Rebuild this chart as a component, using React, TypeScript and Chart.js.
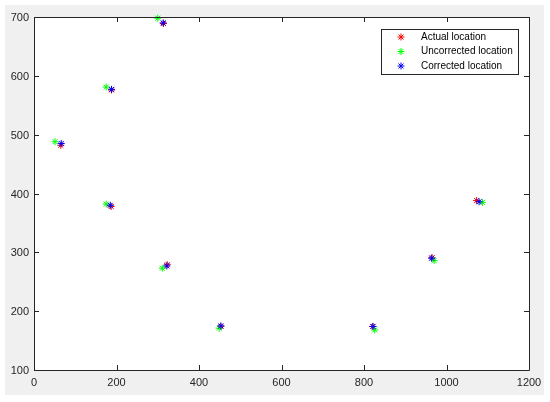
import React, { useEffect, useRef } from 'react';
import { Chart, registerables } from 'chart.js';

Chart.register(...registerables);

const xTicks = [0, 200, 400, 600, 800, 1000, 1200];
const yTicks = [100, 200, 300, 400, 500, 600, 700];

const seriesNames = ['Actual location', 'Uncorrected location', 'Corrected location'];
const seriesColors = ['#ff0000', '#00ff00', '#0000ff'];

const actualX = [314, 188, 65, 187, 323, 453, 821, 965, 1073];
const actualY = [689, 576, 482, 378, 279, 174, 174, 291, 388];

const uncorrectedX = [300, 175, 51, 175, 311, 449, 826, 970, 1087];
const uncorrectedY = [698, 581, 488, 382, 273, 171, 168, 286, 385];

const correctedX = [313, 188, 66, 185, 322, 453, 822, 964, 1079];
const correctedY = [690, 577, 485, 380, 277, 175, 174, 290, 386];

const FONT = '"Liberation Sans", Arial, Helvetica, sans-serif';
const AXIS_COLOR = '#262626';

function toPoints(xs: number[], ys: number[]) {
  return xs.map((x, i) => ({ x, y: ys[i] }));
}

function drawAsterisk(ctx: CanvasRenderingContext2D, x: number, y: number, r: number, color: string) {
  const d = r * Math.SQRT1_2;
  ctx.save();
  ctx.strokeStyle = color;
  ctx.lineWidth = 1;
  ctx.beginPath();
  ctx.moveTo(x - r, y);
  ctx.lineTo(x + r, y);
  ctx.moveTo(x, y - r);
  ctx.lineTo(x, y + r);
  ctx.moveTo(x - d, y - d);
  ctx.lineTo(x + d, y + d);
  ctx.moveTo(x - d, y + d);
  ctx.lineTo(x + d, y - d);
  ctx.stroke();
  ctx.restore();
}

const framePlugin = {
  id: 'matlabFrame',
  beforeDraw(chart: any) {
    const { ctx, chartArea, width, height } = chart;
    ctx.save();
    ctx.fillStyle = '#ffffff';
    ctx.fillRect(0, 0, width, height);
    ctx.fillStyle = '#f0f0f0';
    ctx.fillRect(5, 5, width - 11, height - 12);
    ctx.fillStyle = '#ffffff';
    ctx.fillRect(chartArea.left, chartArea.top, chartArea.right - chartArea.left, chartArea.bottom - chartArea.top);
    ctx.restore();
  },
  afterDraw(chart: any) {
    const { ctx, chartArea } = chart;
    const { left, right, top, bottom } = chartArea;
    const xs = chart.scales.x;
    const ys = chart.scales.y;
    const tl = 5;
    ctx.save();
    ctx.strokeStyle = AXIS_COLOR;
    ctx.lineWidth = 1;
    ctx.beginPath();
    ctx.rect(Math.round(left) + 0.5, Math.round(top) + 0.5, Math.round(right - left), Math.round(bottom - top));
    ctx.stroke();
    ctx.beginPath();
    xTicks.forEach((v) => {
      const px = Math.round(xs.getPixelForValue(v)) + 0.5;
      ctx.moveTo(px, bottom);
      ctx.lineTo(px, bottom - tl);
      ctx.moveTo(px, top);
      ctx.lineTo(px, top + tl);
    });
    yTicks.forEach((v) => {
      const py = Math.round(ys.getPixelForValue(v)) + 0.5;
      ctx.moveTo(left, py);
      ctx.lineTo(left + tl, py);
      ctx.moveTo(right, py);
      ctx.lineTo(right - tl, py);
    });
    ctx.stroke();

    // tick labels
    ctx.fillStyle = AXIS_COLOR;
    ctx.font = `11px ${FONT}`;
    ctx.textBaseline = 'middle';
    ctx.textAlign = 'center';
    xTicks.forEach((v) => {
      ctx.fillText(String(v), xs.getPixelForValue(v), bottom + 13);
    });
    ctx.textAlign = 'right';
    yTicks.forEach((v) => {
      ctx.fillText(String(v), left - 5, ys.getPixelForValue(v) + 1);
    });

    // legend
    const lw = 137;
    const lh = 45;
    const lx = Math.round(right) - 11 - lw;
    const ly = Math.round(top) + 12;
    ctx.fillStyle = '#ffffff';
    ctx.fillRect(lx, ly, lw, lh);
    ctx.strokeStyle = AXIS_COLOR;
    ctx.strokeRect(lx + 0.5, ly + 0.5, lw, lh);
    ctx.font = `10px ${FONT}`;
    ctx.textBaseline = 'middle';
    ctx.textAlign = 'left';
    seriesNames.forEach((name, i) => {
      const cy = ly + 8 + i * 14.5;
      drawAsterisk(ctx, lx + 20, cy, 3.5, seriesColors[i]);
      ctx.fillStyle = '#000000';
      ctx.fillText(name, lx + 40, cy);
    });
    ctx.restore();
  },
};

export default function App() {
  const canvasRef = useRef<HTMLCanvasElement | null>(null);

  useEffect(() => {
    const canvas = canvasRef.current;
    if (!canvas) return;
    const datasets = [
      { label: seriesNames[0], data: toPoints(actualX, actualY), order: 2 },
      { label: seriesNames[1], data: toPoints(uncorrectedX, uncorrectedY), order: 1 },
      { label: seriesNames[2], data: toPoints(correctedX, correctedY), order: 0 },
    ].map((d, i) => ({
      ...d,
      pointStyle: 'star' as const,
      pointRadius: 3.5,
      pointHoverRadius: 3.5,
      borderWidth: 1,
      pointBorderWidth: 1,
      borderColor: seriesColors[i],
      backgroundColor: seriesColors[i],
      showLine: false,
      clip: false as const,
    }));

    const chart = new Chart(canvas, {
      type: 'scatter',
      data: { datasets },
      options: {
        responsive: false,
        animation: false,
        devicePixelRatio: 1,
        events: [],
        layout: { padding: { left: 34, top: 17, right: 21, bottom: 32 } },
        plugins: {
          legend: { display: false },
          tooltip: { enabled: false },
        },
        scales: {
          x: {
            type: 'linear',
            position: 'bottom',
            min: 0,
            max: 1200,
            afterFit: (s: any) => { s.height = 0; },
            grid: { display: false, drawTicks: false },
            border: { display: false },
            ticks: { display: false, stepSize: 200 },
          },
          y: {
            type: 'linear',
            position: 'left',
            min: 100,
            max: 700,
            afterFit: (s: any) => { s.width = 0; },
            grid: { display: false, drawTicks: false },
            border: { display: false },
            ticks: { display: false, stepSize: 100 },
          },
        },
      },
      plugins: [framePlugin],
    });
    return () => chart.destroy();
  }, []);

  return (
    <div style={{ position: 'absolute', left: 0, top: 0, width: 550, height: 402, background: '#ffffff' }}>
      <canvas ref={canvasRef} width={550} height={402} style={{ display: 'block', width: 550, height: 402 }} />
    </div>
  );
}
